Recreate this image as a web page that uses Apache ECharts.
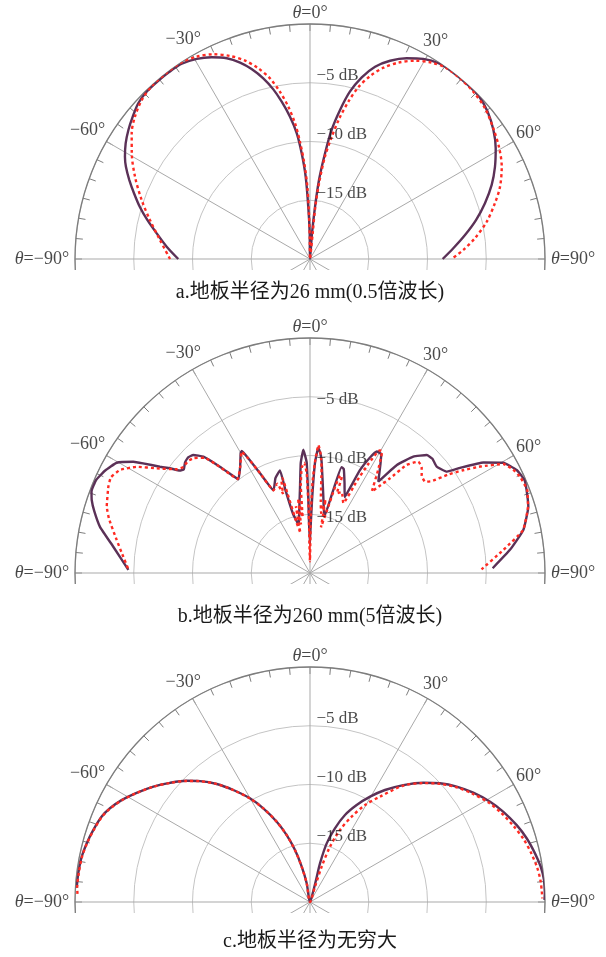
<!DOCTYPE html>
<html><head><meta charset="utf-8">
<script src="https://cdn.jsdelivr.net/npm/echarts@6/dist/echarts.min.js"></script>
<style>html,body{margin:0;padding:0;background:#fff}#c{width:606px;height:957px}</style>
</head><body><div id="c"></div>
<script>
// ---------- tick labels ----------
const angleTicks = [-90, -60, -30, 0, 30, 60, 90];
const angleTickLabels = ['{i|θ}=−90°', '−60°', '−30°', '{i|θ}=0°', '30°', '60°', '{i|θ}=90°'];
const radiusTicks = [-5, -10, -15];
const radiusTickLabels = ['−5 dB', '−10 dB', '−15 dB'];
const captions = ['a.地板半径为26 mm(0.5倍波长)', 'b.地板半径为260 mm(5倍波长)', 'c.地板半径为无穷大'];

// ---------- data: [theta (deg), gain (dB)] ----------
const aSolid = [[-90,-8.79],[-85.1,-7.76],[-80.5,-6.77],[-76.5,-5.76],[-73,-4.86],[-69.5,-4.01],[-66.4,-3.22],[-63.4,-2.48],[-61.1,-2.01],[-57.9,-1.48],[-54.6,-1.04],[-51.3,-0.66],[-47.8,-0.27],[-44.4,-0.1],[-40.6,-0.08],[-37,-0.08],[-33.3,-0.12],[-29.5,-0.43],[-26,-0.9],[-22.5,-1.51],[-19.6,-2.26],[-17.1,-3.09],[-14.5,-4.12],[-12.2,-5.23],[-10.2,-6.4],[-8,-7.77],[-6,-9.24],[-4.5,-10.98],[-3,-12.99],[-1.9,-15.55],[-0.7,-17.8],[0,-20],[4.5,-17.8],[5.5,-15.53],[6.5,-13.23],[8.1,-10.91],[9.5,-8.87],[11.4,-7.06],[13.4,-5.36],[15.9,-3.92],[18.7,-2.72],[22,-1.8],[25.7,-1.04],[29.5,-0.43],[33.6,-0.05],[37.7,0],[42,0],[46.2,-0.04],[50.3,-0.36],[54.9,-0.92],[59.2,-1.6],[63.5,-2.41],[67.8,-3.3],[72.3,-4.37],[76.8,-5.49],[81.2,-6.65],[85.7,-7.77],[90,-8.71]];
const aDotted = [[-90,-8.09],[-82.8,-7.13],[-76.3,-5.98],[-70.7,-4.82],[-64.8,-3.54],[-59.3,-2.36],[-54.8,-1.43],[-50.9,-0.8],[-46.6,-0.3],[-42.3,-0.05],[-37.7,0],[-33.5,0],[-29.3,-0.26],[-25.3,-0.73],[-21.5,-1.43],[-18.1,-2.24],[-15.2,-3.18],[-12.5,-4.25],[-10.2,-5.53],[-8.1,-6.91],[-6.3,-8.38],[-4.9,-9.98],[-3.4,-11.84],[-2.1,-13.84],[-1.3,-16.11],[-0.5,-18.4],[0,-20],[6,-17.8],[5.8,-15.52],[6.9,-13.37],[8.3,-11.2],[10.1,-9.43],[11.8,-7.77],[13.7,-6.22],[15.7,-4.82],[18.2,-3.61],[21,-2.56],[24.2,-1.68],[27.9,-0.9],[31.8,-0.34],[35.6,-0.03],[39.7,-0.02],[44.3,-0.1],[49.3,-0.35],[54.5,-0.84],[59.7,-1.34],[64.3,-1.89],[69.2,-2.7],[73.2,-3.56],[78.1,-4.63],[82.8,-5.85],[86.6,-6.93],[90,-7.94]];

const bSolid = [[-89,-4.54],[-82.4,-3.11],[-77.6,-1.7],[-74,-0.9],[-71.5,-0.41],[-69.5,-0.15],[-66.5,-0.15],[-63.5,-0.5],[-60.3,-1.06],[-57.8,-2.23],[-56.7,-3.0],[-54.7,-4.35],[-53.2,-5.12],[-51.8,-5.9],[-50.6,-6.1],[-48.5,-5.8],[-46.5,-5.7],[-44.7,-5.87],[-42.5,-6.57],[-40.3,-8.14],[-38.5,-9.4],[-37.4,-9.96],[-33.4,-9.2],[-30,-8.2],[-29.2,-8.1],[-28.3,-8.92],[-26.6,-10.5],[-23.8,-12.3],[-20,-11.4],[-16.3,-10.9],[-16.5,-12.6],[-16,-14.8],[-13,-15.8],[-10.2,-14.8],[-6.7,-12.7],[-4.8,-10.6],[-3.1,-9.5],[-1.7,-10.6],[-1.3,-13.8],[-0.5,-17.5],[0.5,-17.5],[1.6,-13.8],[2.6,-10.6],[3.8,-9.3],[5,-9.8],[6.1,-10.6],[9.9,-13.4],[14.3,-15.05],[15.7,-12.66],[16.6,-10.6],[18,-10.7],[21,-11.8],[24.6,-12.9],[25.9,-10.3],[27.5,-8.9],[28.8,-8.2],[30.9,-8.2],[33,-9.0],[36.8,-10.3],[38.8,-8.2],[41.6,-6.76],[44.7,-5.87],[47,-5.75],[50,-5.92],[53.5,-5.5],[55,-4.4],[57.5,-2.5],[60.3,-1.06],[63.5,-0.35],[66.5,-0.1],[69,-0.26],[73.1,-0.58],[78.6,-1.48],[83.4,-2.87],[88.5,-4.45]];
const bDotted = [[-88.5,-4.5],[-84,-3.9],[-80.3,-3.31],[-75,-2.3],[-71.9,-1.8],[-66.8,-1.33],[-64.3,-1.2],[-61.5,-1.61],[-58.5,-2.7],[-55.7,-4.2],[-52.1,-5.63],[-50,-5.95],[-47.5,-5.9],[-45.3,-6.1],[-42.5,-6.7],[-40.3,-8.2],[-37.6,-9.9],[-33.4,-9.2],[-29.4,-8.15],[-28.3,-8.95],[-26.6,-10.5],[-23.8,-12.3],[-20.1,-11.9],[-18.8,-12.9],[-17.2,-11.8],[-16.3,-11.6],[-15.8,-13],[-15,-15.5],[-13.5,-16.5],[-12,-14.2],[-10.5,-15.8],[-9.1,-13.6],[-7.5,-15.2],[-6,-12.5],[-4.5,-11],[-3,-10.6],[-1.9,-11.5],[-1.2,-14.5],[-0.3,-19],[0.8,-15],[1.6,-12.2],[2.7,-10.3],[3.8,-9.1],[5.2,-9.9],[6.3,-11],[8.5,-13.8],[10.5,-14.8],[12,-13.6],[13.5,-16],[15.2,-14.5],[16.2,-12.5],[17.2,-11.3],[18.3,-11.4],[18.5,-12.85],[21.5,-12.6],[25.5,-13.4],[27,-11.2],[28.2,-9.4],[29.6,-8.0],[30.6,-7.95],[31.5,-8.4],[33.5,-9.5],[37.2,-11.3],[38.5,-10.6],[40.2,-9.45],[41.8,-7.66],[44.2,-6.78],[46.5,-6.9],[49,-7.4],[51.6,-7.5],[53,-7.0],[54.5,-5.6],[56,-4.4],[58,-2.9],[60.6,-1.1],[63,-0.6],[65.4,-0.34],[69,-0.2],[73,-0.6],[78.6,-1.5],[83.2,-3.43],[88.8,-5.4]];

const cSolid = [[-86.5,-0.11],[-82.9,-0.13],[-78.8,-0.19],[-75.3,-0.35],[-71.6,-0.57],[-67.7,-0.84],[-64.9,-1.2],[-61.6,-1.77],[-57.8,-2.56],[-53.6,-3.44],[-49.6,-4.35],[-45.5,-5.28],[-42.3,-6.09],[-38.3,-7.2],[-34.4,-8.45],[-30.1,-9.8],[-26.5,-11.09],[-22.5,-12.6],[-19.2,-13.97],[-16.1,-15.4],[-13.2,-16.91],[-10,-18.38],[0,-20],[17,-19.2],[15.3,-18.06],[14.5,-16.6],[15.9,-14.81],[18.7,-13.38],[21.9,-12.02],[25.7,-10.84],[29.7,-9.68],[33.8,-8.53],[38.6,-7.27],[43.5,-6],[47.6,-5.02],[51.8,-4.12],[56.2,-3.28],[60.9,-2.46],[65,-1.84],[69.6,-1.23],[73.6,-0.78],[77.8,-0.41],[81.3,-0.14],[84.6,0],[87.9,0],[89.5,-0.05]];
const cDotted = [[-88,-0.2],[-86.5,-0.15],[-82.9,-0.17],[-78.8,-0.22],[-75.3,-0.38],[-71.6,-0.6],[-67.7,-0.87],[-64.9,-1.23],[-61.6,-1.8],[-57.8,-2.58],[-53.6,-3.46],[-49.6,-4.37],[-45.5,-5.3],[-42.3,-6.1],[-38.3,-7.22],[-34.4,-8.47],[-30.1,-9.82],[-26.5,-11.1],[-22.5,-12.62],[-19.2,-13.98],[-16.1,-15.42],[-13.2,-16.92],[-10,-18.4],[0,-20],[18.1,-18.63],[18.3,-16.83],[19.9,-15],[22.6,-13.36],[26,-11.92],[29.6,-10.51],[33.6,-9.23],[38.6,-7.35],[43.5,-6.05],[47.6,-5.08],[51.8,-4.2],[56.2,-3.4],[60.9,-2.6],[65,-2.05],[69.6,-1.5],[73.6,-1.05],[77.8,-0.7],[81.3,-0.45],[84.6,-0.3],[87.5,-0.25],[89.1,-0.23]];

const panels = [
  {solid: aSolid, dotted: aDotted, smooth: 0.3},
  {solid: bSolid, dotted: bDotted, smooth: 0.12},
  {solid: cSolid, dotted: cDotted, smooth: 0.3}
];

// ---------- layout / style ----------
const CENTERS = [[310, 259], [310, 573], [310, 902]];
const RADIUS = 235;
const CAPTION_Y = [293, 617, 942];
const RLABEL_DY = [-7, 3, -7];
const SERIF = '"Liberation Serif","Times New Roman",serif';
const CJK = '"Liberation Serif","Noto Sans CJK SC",serif';
const PURPLE = '#5b3157';
const RED = '#ff2a22';
const ANG_FONT = 18, RAD_FONT = 17;

const ctx = document.createElement('canvas').getContext('2d');
ctx.font = ANG_FONT + 'px ' + SERIF;
function plain(s) { return s.replace(/\{i\|(.*?)\}/g, '$1'); }

const polar = [], angleAxis = [], radiusAxis = [], series = [], graphic = [];
CENTERS.forEach((c, i) => {
  const zl = i; // each panel on its own layer so the lower half can be masked
  polar.push({center: c, radius: RADIUS});
  angleAxis.push({
    polarIndex: i, type: 'value', min: -180, max: 180, interval: 30,
    startAngle: 270, clockwise: true, zlevel: zl,
    axisLine: {lineStyle: {color: '#7d7d7d', width: 1.3}},
    axisTick: {show: true, inside: true, length: 7, lineStyle: {color: '#7d7d7d', width: 1}},
    minorTick: {show: true, splitNumber: 6, length: 7, lineStyle: {color: '#7d7d7d', width: 1}},
    splitLine: {show: true, lineStyle: {color: '#a9a9a9', width: 1}},
    axisLabel: {show: false}
  });
  radiusAxis.push({
    polarIndex: i, type: 'value', min: -20, max: 0, interval: 5, zlevel: zl,
    axisLine: {show: false}, axisTick: {show: false}, axisLabel: {show: false},
    splitLine: {show: true, lineStyle: {color: '#c4c4c4', width: 1}}
  });
  const p = panels[i];
  series.push({
    type: 'line', coordinateSystem: 'polar', polarIndex: i, symbol: 'none', zlevel: zl,
    smooth: p.smooth, data: p.solid.map(([t, d]) => [d, t]),
    lineStyle: {color: PURPLE, width: 2.4}, z: 3, silent: true
  });
  series.push({
    type: 'line', coordinateSystem: 'polar', polarIndex: i, symbol: 'none', zlevel: zl,
    smooth: p.smooth, data: p.dotted.map(([t, d]) => [d, t]),
    lineStyle: {color: RED, width: 2.4, type: [3, 3]}, z: 4, silent: true
  });
  // angle labels
  series.push({
    type: 'scatter', coordinateSystem: 'polar', polarIndex: i, clip: false, silent: true, zlevel: zl,
    symbolSize: 1, itemStyle: {color: 'rgba(0,0,0,0)'}, z: 6,
    data: angleTicks.map((t, k) => {
      const w = ctx.measureText(plain(angleTickLabels[k])).width;
      const h = ANG_FONT;
      const s = Math.sin(t * Math.PI / 180), co = Math.cos(t * Math.PI / 180);
      const gap = Math.abs(t) === 90 ? 6 : 2;
      const d = gap + Math.abs(s) * w / 2 + Math.abs(co) * h / 2;
      return {
        value: [0, t],
        label: {show: true, position: 'inside', offset: [d * s, -d * co], formatter: angleTickLabels[k]}
      };
    }),
    label: {show: true, fontFamily: SERIF, fontSize: ANG_FONT, color: '#1a1a1a',
      rich: {i: {fontStyle: 'italic', fontFamily: SERIF, fontSize: ANG_FONT, color: '#1a1a1a'}}}
  });
  // radius labels
  series.push({
    type: 'scatter', coordinateSystem: 'polar', polarIndex: i, clip: false, silent: true, zlevel: zl,
    symbolSize: 1, itemStyle: {color: 'rgba(0,0,0,0)'}, z: 6,
    data: radiusTicks.map((r, k) => ({value: [r, 0], label: {formatter: radiusTickLabels[k]}})),
    label: {show: true, position: 'right', distance: 6, offset: [0, RLABEL_DY[i]],
      fontFamily: SERIF, fontSize: RAD_FONT, color: '#1a1a1a'}
  });
  // white mask below the baseline (crop of the full polar frame)
  graphic.push({type: 'rect', z: 50, zlevel: zl, silent: true,
    shape: {x: 0, y: c[1] + 11, width: 606, height: 957 - (c[1] + 11)},
    style: {fill: '#ffffff'}});
  graphic.push({type: 'text', z: 100, zlevel: zl, silent: true, x: 310, y: CAPTION_Y[i],
    style: {text: captions[i], font: '20px ' + CJK, fill: '#1a1a1a', align: 'center', verticalAlign: 'middle'}});
});

const chart = echarts.init(document.getElementById('c'), null, {renderer: 'canvas'});
chart.setOption({animation: false, backgroundColor: '#fff', polar, angleAxis, radiusAxis, series, graphic});
</script>
</body></html>
